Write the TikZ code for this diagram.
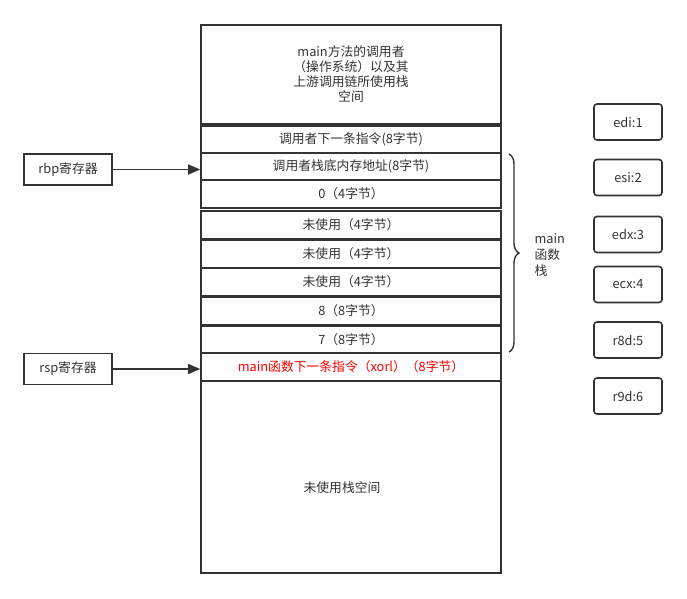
\documentclass[tikz,border=0pt]{standalone}
\usepackage{fontspec}
\setmainfont{Noto Sans CJK SC}
\usepackage{xcolor}
\usetikzlibrary{arrows.meta, positioning, calc, decorations.pathreplacing}
\definecolor{dark}{RGB}{51, 51, 51}
\definecolor{hot}{RGB}{255, 0, 0}
\tikzset{
    cell/.style={rectangle, draw=dark, line width=1.6pt, fill=white, minimum width=300pt, inner sep=0pt, text=dark, font=\fontsize{12.8}{15}\selectfont, align=center},
    regbox/.style={rectangle, draw=dark, line width=1.6pt, minimum width=88pt, minimum height=31pt, inner sep=0pt, text=dark, font=\fontsize{12.8}{15}\selectfont},
    argbox/.style={rectangle, rounded corners=3pt, draw=dark, line width=1.6pt, minimum width=68pt, minimum height=36pt, inner sep=0pt, text=dark, font=\fontsize{12.8}{15}\selectfont},
    arr/.style={-{Triangle[length=12pt, width=10pt]}, line width=1.3pt, dark}
}
\begin{document}
\begin{tikzpicture}[x=1pt, y=-1pt]
        \useasboundingbox (0,0) rectangle (687,598);
        % stack cells
        \node[cell, minimum height=99pt] (caller) at (351,74.5) {main方法的调用者\\（操作系统）以及其\\上游调用链所使用栈\\空间};
        \node[cell, minimum height=27pt] (r1) at (351,139.5) {调用者下一条指令(8字节)};
        \node[cell, minimum height=27pt] (r2) at (351,166.5) {调用者栈底内存地址(8字节)};
        \node[cell, minimum height=28pt] (r3) at (351,194) {0（4字节）};
        \node[cell, minimum height=28pt] (r4) at (351,225) {未使用（4字节）};
        \node[cell, minimum height=28pt] (r5) at (351,254) {未使用（4字节）};
        \node[cell, minimum height=28pt] (r6) at (351,282) {未使用（4字节）};
        \node[cell, minimum height=28pt] (r7) at (351,311) {8（8字节）};
        \node[cell, minimum height=27pt] (r8) at (351,339.5) {7（8字节）};
        \node[cell, minimum height=28pt, text=hot] (r9) at (351,367) {main函数下一条指令（xorl）（8字节）};
        \node[cell, minimum height=192pt] (free) at (351,477) {};
        \node[text=dark, font=\fontsize{12.8}{15}\selectfont] (freelbl) at (342,488) {未使用栈空间};

        % registers
        \node[regbox] (rbp) at (68,169.5) {rbp寄存器};
        \node[regbox] (rsp) at (68,369) {rsp寄存器};
        \draw[arr] (rbp.east)--(rbp.east -| r2.west);
        \draw[arr] (rsp.east)--(rsp.east -| r9.west);

        % main frame brace
        \coordinate (btop) at (509,154);
        \coordinate (bbot) at (509,352);
        \draw[dark, line width=1.4pt, decorate, decoration={brace, amplitude=10pt}] (btop)--(bbot);
        \node[anchor=west, align=left, text=dark, font=\fontsize{12.8}{16}\selectfont] (mainlbl) at (531,255) {main\\函数\\栈};

        % argument registers
        \node[argbox] (edi) at (628,122) {edi:1};
        \node[argbox] (esi) at (628,177.5) {esi:2};
        \node[argbox] (edx) at (628,234.5) {edx:3};
        \node[argbox] (ecx) at (628,284.5) {ecx:4};
        \node[argbox] (r8d) at (628,340) {r8d:5};
        \node[argbox] (r9d) at (628,396) {r9d:6};
    \end{tikzpicture}
\end{document}
